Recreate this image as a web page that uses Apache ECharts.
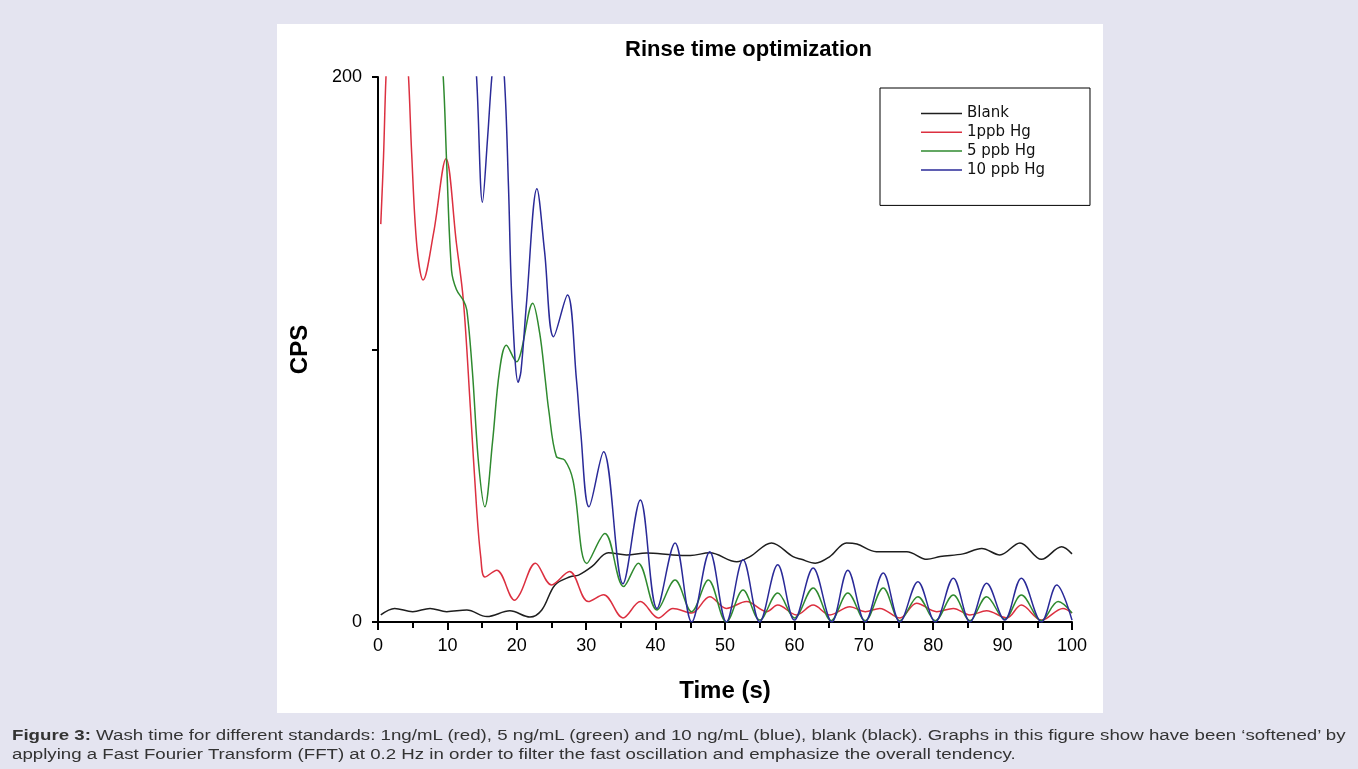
<!DOCTYPE html>
<html>
<head>
<meta charset="utf-8">
<script src="https://cdn.jsdelivr.net/npm/echarts@6/dist/echarts.min.js"></script>
<style>
  html, body { margin: 0; padding: 0; background: #e4e4f0; overflow: hidden; }
  #chart { position: absolute; left: 0; top: 0; width: 1358px; height: 769px; }
  #caption { position: absolute; left: 12px; top: 726px; white-space: nowrap; transform-origin: 0 0;
    font-family: 'Liberation Sans', Arial, sans-serif; font-size: 14px; line-height: 19px; color: #333; }
</style>
</head>
<body>
<div id="chart"></div>
<div id="caption"><span id="line1"><b>Figure 3:</b> Wash time for different standards: 1ng/mL (red), 5 ng/mL (green) and 10 ng/mL (blue), blank (black). Graphs in this figure show have been &lsquo;softened&rsquo; by</span><br>applying a Fast Fourier Transform (FFT) at 0.2 Hz in order to filter the fast oscillation and emphasize the overall tendency.</div>
<script>
// time (s), CPS
var blankData = [[0.4,2.6],[2.4,5],[5,3.8],[7.5,5],[9.9,3.8],[12.8,4.4],[15.7,2],[19,4.1],[21.9,1.8],[23.6,4.4],
  [25.5,13.6],[27.7,16.6],[28.9,17.2],[30.8,20.3],[33.2,25.4],[35.8,24.6],[38.7,25.3],[42.5,24.6],[45,24.4],
  [47.8,25.4],[51.7,22.1],[53.6,24],[56.7,29],[59.8,24],[61,23],[63,21.6],[65.1,24],[67.5,29],[69,28.6],
  [71.8,25.8],[76.2,25.8],[79.1,23],[81,24],[84.3,25],[87,27],[89.6,24.6],[92.5,29],[95.6,23],[98.5,27.6],[100,25]];

var hg1Data = [[0.4,146],[0.8,171],[1.15,200],[1.6,220],[2.8,235],[3.8,222],[4.4,200],[4.85,172],[5.6,138],
  [6.5,125.5],[8,142.6],[9.8,170],[11.3,139],[12.3,118],[13.3,79],[14.2,42],[14.8,24],[15.4,16.5],[17.1,19],
  [19.7,8],[20.5,10.5],[22.7,21.6],[25,13.6],[27.6,18.5],[30.3,7.5],[32.5,10],[35.3,1.5],[37.8,7.5],[40.4,1.5],
  [42.5,5],[45.2,3.3],[47.8,9.3],[50.2,5],[53.1,7.5],[56,3.8],[57.6,6.2],[60.3,2.6],[62.7,6.2],[65.1,2.6],
  [68,5.6],[70.2,3.8],[72.3,5],[75.2,1.5],[77.6,6.9],[80.5,3.8],[82.9,5],[85.3,2.6],[87.7,4.1],[90.6,1.5],
  [92.7,6.2],[95.6,0.7],[98.7,5],[100,3.3]];

var hg5Data = [[7,260],[8.5,228],[9.4,200],[9.9,168],[10.6,129],[11.3,122],[12.3,118],[12.8,114.5],[13.6,92],
  [14.5,58],[15.4,42.3],[16.5,66],[17.5,92],[18.5,101.6],[20,95.5],[20.6,99],[22.3,117],[23.3,106],[24.1,89],
  [24.6,77.8],[25.7,60.7],[26.9,59.4],[28.1,52],[30.1,21.5],[32.7,32.5],[35.4,13],[37.5,21.6],[40.2,4.4],
  [42.8,15.4],[45.2,3.8],[47.6,15.4],[50.2,0],[52.6,11.7],[55,0.7],[57.6,10.6],[60,1.5],[62.7,12.5],[65.3,0.5],
  [67.7,10.6],[70.2,0.5],[72.8,12.5],[75.2,0.5],[77.8,9.3],[80.3,0.5],[82.9,9.9],[85.3,0.5],[87.7,9.3],
  [90.3,1],[92.7,9.9],[95.6,0.5],[98,7.5],[100,3.3]];

var hg10Data = [[11,290],[13,240],[14.2,200],[15.05,154],[15.8,178],[16.4,200],[17.3,222],[18.2,200],[18.8,160],
  [19.3,118],[20.2,88],[20.6,92],[21.4,117],[22.9,159],[24,136],[25.3,104.7],[27.3,120],[28.6,88.8],[29.2,70],
  [30.4,42.3],[32.5,62.5],[35.3,14],[37.8,44.8],[40.2,5],[42.8,29],[45.2,0],[47.8,25.8],[50.2,0],[52.6,22.8],
  [55,0],[57.6,21],[60,0.7],[62.7,19.8],[65.4,0],[67.7,19],[70.2,0],[72.8,18],[75.2,0],[77.8,14.8],[80.3,0],
  [82.9,16.1],[85.3,0],[87.7,14.2],[90.3,0.7],[92.7,16.1],[95.6,0],[97.8,13.6],[100,0.7]];

var seriesNames = ['Blank', '1ppb Hg', '5 ppb Hg', '10 ppb Hg'];
var seriesColors = ['#1e1e1e', '#dc3040', '#2f8a2f', '#2a2a98'];
var xTicks = [0, 100, 10];   // min, max, interval
var yTicks = [0, 200, 100];

var allData = [blankData, hg1Data, hg5Data, hg10Data];
var font = "'Liberation Sans', Arial, sans-serif";

// caption: first line runs to the right edge of the page
var cap = document.getElementById('caption');
var w1 = document.getElementById('line1').offsetWidth;
cap.style.transform = 'scaleX(' + (1333 / w1) + ')';

var option = {
  animation: false,
  backgroundColor: '#e4e4f0',
  graphic: [
    { type: 'rect', z: -10, shape: { x: 277, y: 24, width: 826, height: 689 }, style: { fill: '#ffffff' } }
  ],
  title: {
    text: 'Rinse time optimization',
    left: 625, top: 39, padding: 0,
    textStyle: { fontFamily: font, fontSize: 22, fontWeight: 'bold', color: '#000' }
  },
  legend: {
    orient: 'vertical',
    left: 880, top: 88,
    padding: [18, 45, 28, 41],
    borderColor: '#000', borderWidth: 1,
    icon: 'rect', itemWidth: 41, itemHeight: 1.5, itemGap: 3.8,
    textStyle: { fontFamily: "'DejaVu Sans', sans-serif", fontSize: 15, lineHeight: 14, color: '#111' },
    data: seriesNames
  },
  grid: { left: 378, top: 77, right: 286, bottom: 147 },
  xAxis: {
    type: 'value', min: xTicks[0], max: xTicks[1], interval: xTicks[2],
    name: 'Time (s)', nameLocation: 'middle', nameGap: 57,
    nameTextStyle: { fontFamily: font, fontSize: 24, fontWeight: 'bold', color: '#000' },
    axisLine: { lineStyle: { color: '#000', width: 2 } },
    axisTick: { length: 8, lineStyle: { width: 2, color: '#000' } },
    minorTick: { show: true, splitNumber: 2, length: 6, lineStyle: { width: 2, color: '#000' } },
    splitLine: { show: false },
    axisLabel: { margin: 15, fontFamily: font, fontSize: 18, color: '#000' }
  },
  yAxis: {
    type: 'value', min: yTicks[0], max: yTicks[1], interval: yTicks[2],
    name: 'CPS', nameLocation: 'middle', nameGap: 66, nameRotate: 90,
    nameTextStyle: { fontFamily: font, fontSize: 24, fontWeight: 'bold', color: '#000' },
    axisLine: { show: true, lineStyle: { color: '#000', width: 2 } },
    axisTick: { show: true, length: 6, lineStyle: { width: 2, color: '#000' } },
    splitLine: { show: false },
    axisLabel: { margin: 16, fontFamily: font, fontSize: 18, color: '#000',
      formatter: function (v) { return v === 100 ? '' : v; } }
  },
  series: seriesNames.map(function (n, i) {
    return {
      name: n, type: 'line', data: allData[i],
      smooth: 0.35, symbol: 'none', clip: true,
      itemStyle: { color: seriesColors[i] },
      lineStyle: { color: seriesColors[i], width: 1.5 }
    };
  })
};

var myChart = echarts.init(document.getElementById('chart'));
myChart.setOption(option);
</script>
</body>
</html>
